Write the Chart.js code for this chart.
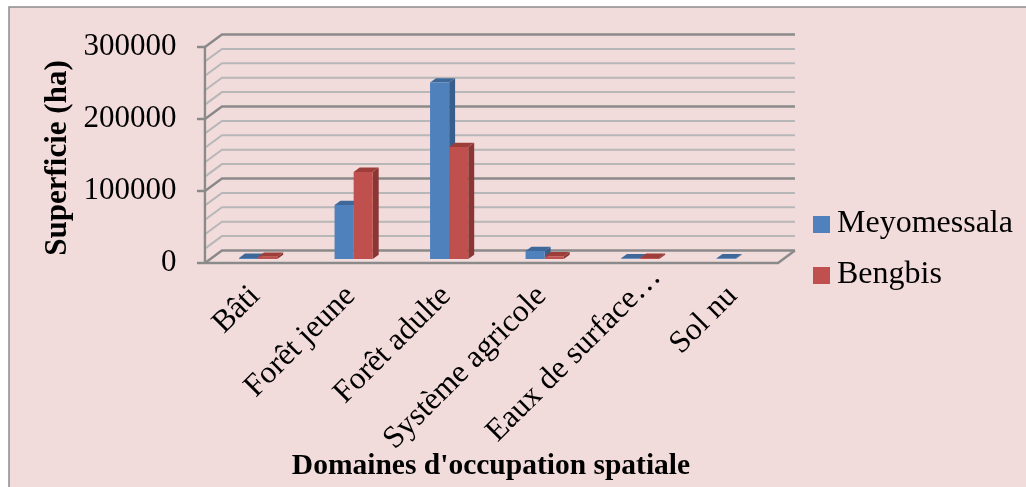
<!DOCTYPE html>
<html>
<head>
<meta charset="utf-8">
<script src="https://cdn.jsdelivr.net/npm/chart.js@4.4.0/dist/chart.umd.min.js"></script>
<style>
  html, body { margin: 0; padding: 0; background: #ffffff; overflow: hidden; }
  canvas { display: block; }
</style>
</head>
<body>
<canvas id="chart" width="1026" height="487"></canvas>
<script>
// Land-cover areas (ha) for the two communes
const categories = ['Bâti', 'Forêt jeune', 'Forêt adulte', 'Système agricole', 'Eaux de surface…', 'Sol nu'];
const meyomessala = [1500, 75000, 245000, 11000, 1000, 1000];
const bengbis = [3000, 121000, 155500, 3500, 1500, 0];
const seriesNames = ['Meyomessala', 'Bengbis'];
const yMax = 300000;
const yMajorStep = 100000;
const yMinorStep = 20000;

const SERIF = "'Liberation Serif', 'Times New Roman', serif";
const COLORS = {
  front: ['#4f81bd', '#c0504d'],
  side:  ['#395e8c', '#8a3634'],
  top:   ['#3f689a', '#9e3e3b']
};

// Oblique projection of the 3D box: one full depth step moves (dx, dy) on screen.
const DEPTH = { dx: 17, dy: -12.5 };
const BAR_FRONT = 0.32;   // depth of bar front faces (the chart-area plane)
const BAR_DEPTH = 0.35;   // thickness of a column

function shift(t) { return { x: DEPTH.dx * t, y: DEPTH.dy * t }; }

const backgroundPlugin = {
  id: 'panelBackground',
  beforeDraw(chart) {
    const { ctx, width, height } = chart;
    ctx.save();
    ctx.fillStyle = '#ffffff';
    ctx.fillRect(0, 0, width, height);
    ctx.fillStyle = '#f2dcdb';
    ctx.fillRect(9, 7, width - 9, height - 7);
    ctx.strokeStyle = '#8c8c8c';
    ctx.lineWidth = 1.5;
    ctx.beginPath();
    ctx.moveTo(9, height);
    ctx.lineTo(9, 7);
    ctx.lineTo(width, 7);
    ctx.stroke();
    ctx.restore();

    // The truncated long category label sits further along its own slant
    const xs = chart.scales.x;
    const items = xs.getLabelItems(chart.chartArea);
    const idx = categories.findIndex((c) => c.endsWith('…'));
    if (idx >= 0 && items[idx] && !items[idx]._slid) {
      const tr = items[idx].options.translation;
      tr[0] += 19;
      tr[1] -= 19;
      items[idx]._slid = true;
    }
  }
};

const box3dPlugin = {
  id: 'box3d',
  beforeDatasetsDraw(chart) {
    const { ctx, chartArea } = chart;
    const ya = chart.scales.y;
    const left = chartArea.left, right = chartArea.right;
    const f = shift(-BAR_FRONT);
    const b = shift(1 - BAR_FRONT);
    ctx.save();
    ctx.lineCap = 'butt';
    ctx.lineJoin = 'miter';

    // Walls: minor then major grid lines, running from the front axis to the back wall
    const drawGrid = (major) => {
      for (let v = 0; v <= yMax; v += yMinorStep) {
        const isMajor = v % yMajorStep === 0;
        if (isMajor !== major) continue;
        const yp = ya.getPixelForValue(v);
        ctx.strokeStyle = isMajor ? '#8a8a8a' : '#b7b7b7';
        ctx.lineWidth = isMajor ? 2.4 : 2;
        ctx.beginPath();
        ctx.moveTo(left + f.x, yp + f.y);
        ctx.lineTo(left + b.x, yp + b.y);
        ctx.lineTo(right + b.x, yp + b.y);
        ctx.stroke();
      }
    };
    drawGrid(false);
    drawGrid(true);

    // Floor front edge and right edge
    const y0 = ya.getPixelForValue(0);
    ctx.strokeStyle = '#8a8a8a';
    ctx.lineWidth = 2.4;
    ctx.beginPath();
    ctx.moveTo(left + f.x, y0 + f.y);
    ctx.lineTo(right + f.x, y0 + f.y);
    ctx.lineTo(right + b.x, y0 + b.y);
    ctx.stroke();

    // Front value axis with major tick marks
    const yTop = ya.getPixelForValue(yMax);
    ctx.beginPath();
    ctx.moveTo(left + f.x, yTop + f.y);
    ctx.lineTo(left + f.x, y0 + f.y);
    for (let v = 0; v <= yMax; v += yMajorStep) {
      const yp = ya.getPixelForValue(v) + f.y;
      ctx.moveTo(left + f.x - 8, yp);
      ctx.lineTo(left + f.x, yp);
    }
    ctx.stroke();

    // Column side and top faces (front faces are the library's own bars)
    const s = shift(BAR_DEPTH);
    chart.data.datasets.forEach((ds, di) => {
      const meta = chart.getDatasetMeta(di);
      meta.data.forEach((el, i) => {
        if (!ds.data[i]) return;
        const p = el.getProps(['x', 'y', 'base', 'width'], true);
        const l = p.x - p.width / 2, r = p.x + p.width / 2;
        ctx.fillStyle = COLORS.side[di];
        ctx.beginPath();
        ctx.moveTo(r, p.y);
        ctx.lineTo(r + s.x, p.y + s.y);
        ctx.lineTo(r + s.x, p.base + s.y);
        ctx.lineTo(r, p.base);
        ctx.closePath();
        ctx.fill();
        ctx.fillStyle = COLORS.top[di];
        ctx.beginPath();
        ctx.moveTo(l, p.y);
        ctx.lineTo(l + s.x, p.y + s.y);
        ctx.lineTo(r + s.x, p.y + s.y);
        ctx.lineTo(r, p.y);
        ctx.closePath();
        ctx.fill();
      });
    });
    ctx.restore();
  },
  afterDraw(chart) {
    const { ctx } = chart;
    ctx.save();
    ctx.fillStyle = '#000000';

    // Axis titles
    ctx.textAlign = 'center';
    ctx.textBaseline = 'alphabetic';
    ctx.font = `bold 29.5px ${SERIF}`;
    ctx.fillText("Domaines d'occupation spatiale", 491, 474);
    ctx.font = `bold 31px ${SERIF}`;
    ctx.textBaseline = 'middle';
    ctx.translate(58, 158);
    ctx.rotate(-Math.PI / 2);
    ctx.fillText('Superficie (ha)', 0, 0);
    ctx.setTransform(1, 0, 0, 1, 0, 0);

    // Legend
    ctx.font = `32px ${SERIF}`;
    ctx.textAlign = 'left';
    ctx.textBaseline = 'alphabetic';
    seriesNames.forEach((name, i) => {
      const yb = 232 + i * 51;
      ctx.fillStyle = COLORS.front[i];
      ctx.fillRect(813, yb - 16, 17, 17);
      ctx.fillStyle = '#000000';
      ctx.fillText(name, 837, yb);
    });
    ctx.restore();
  }
};

new Chart(document.getElementById('chart'), {
  type: 'bar',
  data: {
    labels: categories,
    datasets: [
      { label: seriesNames[0], data: meyomessala, backgroundColor: COLORS.front[0], borderWidth: 0 },
      { label: seriesNames[1], data: bengbis, backgroundColor: COLORS.front[1], borderWidth: 0 }
    ]
  },
  options: {
    responsive: false,
    devicePixelRatio: 1,
    animation: false,
    layout: { padding: { left: 0, top: 43, right: 242.6, bottom: 0 } },
    datasets: { bar: { categoryPercentage: 0.4, barPercentage: 1.0 } },
    plugins: {
      legend: { display: false },
      tooltip: { enabled: false },
      title: { display: false }
    },
    scales: {
      x: {
        grid: { display: false },
        border: { display: false },
        ticks: {
          color: '#000000',
          font: { family: SERIF, size: 31.5 },
          minRotation: 45,
          maxRotation: 45,
          autoSkip: false,
          padding: 11,
          labelOffset: -3
        },
        afterFit(scale) {
          scale.height = 228;
          scale.paddingLeft = 0;
          scale.paddingRight = 0;
        }
      },
      y: {
        min: 0,
        max: yMax,
        grid: { display: false },
        border: { display: false },
        ticks: {
          stepSize: yMajorStep,
          color: '#000000',
          font: { family: SERIF, size: 31 },
          padding: 26,
          labelOffset: 4,
          callback: (v) => String(v)
        },
        afterFit(scale) {
          scale.width = 210.4;
          scale.paddingTop = 0;
          scale.paddingBottom = 0;
        }
      }
    }
  },
  plugins: [backgroundPlugin, box3dPlugin]
});
</script>
</body>
</html>
